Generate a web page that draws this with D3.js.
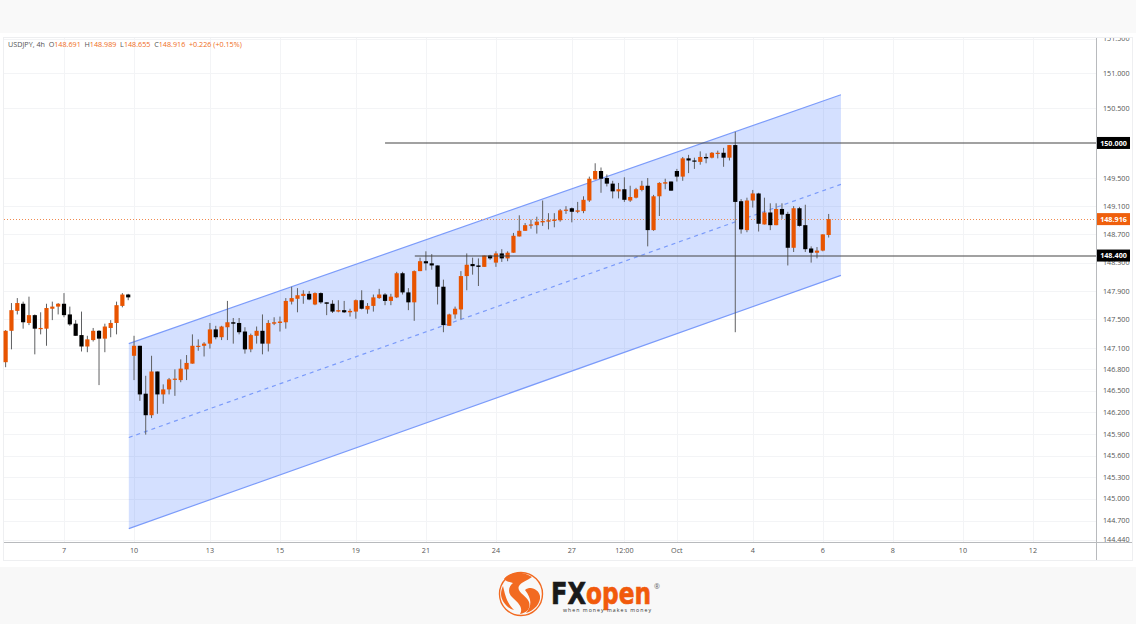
<!DOCTYPE html>
<html>
<head>
<meta charset="utf-8">
<script src="https://cdn.jsdelivr.net/npm/d3@7"></script>
<style>
html,body{margin:0;padding:0;background:#fff;}
svg{display:block;}
text{font-family:"Open Sans",sans-serif;}
</style>
</head>
<body>
<svg width="1136" height="624"></svg>
<script>
// USDJPY 4h candles
var opens = [
146.90,147.34,147.62,147.72,147.45,147.56,147.37,147.37,147.65,147.68,
147.72,147.57,147.44,147.28,147.12,147.21,147.34,147.23,147.38,147.45,
147.69,147.85,146.99,147.13,146.46,146.16,146.77,146.45,146.52,146.66,
146.65,146.80,146.88,147.12,147.13,147.16,147.36,147.25,147.39,147.46,
147.45,147.33,147.08,147.27,147.34,147.16,147.44,147.45,147.46,147.75,
147.79,147.83,147.86,147.71,147.87,147.74,147.72,147.61,147.63,147.60,
147.61,147.77,147.64,147.69,147.80,147.85,147.76,147.81,148.15,147.88,
147.74,148.18,148.32,148.29,148.26,147.96,147.41,147.57,147.64,148.11,
148.28,148.26,148.24,148.40,148.30,148.43,148.36,148.44,148.67,148.75,
148.83,148.83,148.87,148.88,148.89,148.90,149.04,149.07,149.02,149.03,
149.18,149.48,149.60,149.50,149.42,149.31,149.34,149.18,149.22,149.33,
149.39,148.76,149.24,149.42,149.45,149.60,149.52,149.78,149.75,149.73,
149.80,149.79,149.85,149.86,149.79,149.97,149.17,148.76,149.18,149.28,
148.84,149.01,148.83,149.06,148.99,148.51,149.07,148.83,148.50,148.44,
148.47,148.691];
var highs = [
147.35,147.73,147.80,147.75,147.82,147.57,147.60,147.72,147.75,147.73,
147.87,147.68,147.49,147.61,147.27,147.38,147.35,147.44,147.49,147.75,
147.87,147.86,147.27,147.13,146.71,146.99,146.77,146.59,146.68,146.80,
146.94,147.00,147.29,147.22,147.18,147.45,147.41,147.41,147.76,147.52,
147.52,147.39,147.30,147.40,147.57,147.49,147.53,147.54,147.80,147.96,
147.94,147.91,147.90,147.88,147.88,147.74,147.77,147.77,147.76,147.65,
147.78,147.91,147.73,147.85,147.93,147.87,147.86,148.17,148.17,147.94,
148.19,148.37,148.46,148.42,148.26,148.06,147.58,147.68,148.18,148.43,
148.37,148.36,148.40,148.41,148.46,148.49,148.46,148.72,148.97,148.86,
148.91,148.95,149.18,149.00,149.00,149.06,149.10,149.08,149.16,149.24,
149.52,149.71,149.65,149.55,149.46,149.43,149.51,149.39,149.36,149.46,
149.50,149.26,149.44,149.49,149.45,149.63,149.80,149.83,149.79,149.88,
149.85,149.87,149.89,149.93,149.97,150.16,149.20,149.22,149.33,149.29,
149.22,149.14,149.14,149.14,149.02,149.10,149.09,149.12,148.53,148.52,
148.70,148.989];
var lows = [
146.83,147.08,147.57,147.37,147.42,147.01,147.29,147.13,147.49,147.57,
147.53,147.41,147.27,147.05,147.04,147.19,146.58,147.04,147.25,147.29,
147.67,147.77,146.65,146.36,145.89,146.12,146.18,146.32,146.45,146.43,
146.62,146.65,146.88,147.06,146.98,147.09,147.22,147.21,147.21,147.16,
147.29,147.02,147.04,147.16,147.01,147.05,147.42,147.33,147.37,147.71,
147.60,147.72,147.77,147.70,147.72,147.56,147.59,147.60,147.59,147.54,
147.51,147.64,147.58,147.61,147.79,147.70,147.70,147.80,147.85,147.63,
147.48,148.18,148.19,148.20,147.71,147.32,147.41,147.51,147.50,147.91,
148.13,147.97,148.24,148.34,148.24,148.31,148.32,148.44,148.67,148.75,
148.78,148.71,148.82,148.77,148.80,148.88,148.99,148.87,149.00,149.00,
149.16,149.48,149.29,149.38,149.21,149.21,149.16,149.16,149.21,149.31,
148.53,148.75,148.96,149.34,149.32,149.45,149.46,149.57,149.63,149.69,
149.71,149.78,149.78,149.66,149.75,147.32,148.71,148.73,149.08,148.74,
148.84,148.76,148.83,148.92,148.26,148.45,148.81,148.45,148.30,148.36,
148.46,148.655];
var closes = [
147.34,147.63,147.73,147.46,147.56,147.37,147.38,147.66,147.68,147.72,
147.56,147.43,147.27,147.12,147.22,147.34,147.23,147.40,147.45,147.70,
147.85,147.81,147.13,146.45,146.16,146.77,146.45,146.52,146.66,146.67,
146.81,146.89,147.13,147.13,147.16,147.36,147.25,147.40,147.46,147.44,
147.32,147.08,147.28,147.34,147.16,147.45,147.46,147.47,147.76,147.80,
147.84,147.86,147.78,147.87,147.74,147.72,147.61,147.63,147.60,147.62,
147.77,147.65,147.69,147.81,147.85,147.76,147.82,148.15,147.88,147.74,
148.18,148.32,148.29,148.26,147.96,147.42,147.57,147.65,148.11,148.27,
148.25,148.24,148.40,148.36,148.43,148.36,148.44,148.68,148.75,148.83,
148.84,148.88,148.89,148.90,148.91,149.04,149.05,149.02,149.04,149.19,
149.49,149.60,149.49,149.42,149.31,149.34,149.19,149.23,149.34,149.39,
148.76,149.24,149.43,149.44,149.32,149.52,149.78,149.75,149.74,149.80,
149.78,149.86,149.86,149.79,149.97,149.16,148.77,149.18,149.28,148.85,
149.01,148.83,149.06,148.98,148.51,149.07,148.82,148.49,148.44,148.47,
148.70,148.916];

var priceTicks = [151.5,151,150.5,149.5,149.1,148.7,148.3,147.9,147.5,147.1,146.8,146.5,146.2,145.9,145.6,145.3,145,144.7,144.44];
var dateTicks = ["7","10","13","15","19","21","24","27","12:00","Oct","4","6","8","10","12"];
var dateTickIdx = [10,22,35,47,60,72,84,97,106,115,128,140,152,164,176];

// channel ends: candle index, price
var channelIdx = [21.1,143.1];
var channelTop = [147.16,150.69];
var channelMid = [145.85,149.41];
var channelBot = [144.59,148.12];

var levels = [150,148.4];
var levelStart = [65,70.1];
var lastPrice = 148.916;

var headerParts = [["USDJPY, 4h  O","#555"],["148.691","#ef6c1a"],["  H","#555"],["148.989","#ef6c1a"],["  L","#555"],["148.655","#ef6c1a"],["  C","#555"],["148.916","#ef6c1a"],["  +0.226 (+0.15%)","#ef6c1a"]];

var upColor = "#e85400";
var downColor = "#000";
var labelSize = 7.2;

var svg = d3.select("svg");
var x = d3.scaleLinear().domain([-0.45,186.8]).range([3,1096]);
var y = d3.scaleLog().domain([144.44,151.5]).range([539.5,38.5]);

//page frame
svg.append("rect").attr("width",1136).attr("height",33).attr("fill","#f9f9f9");
svg.append("rect").attr("y",567).attr("width",1136).attr("height",57).attr("fill","#f8f8f8");
svg.append("rect").attr("x",3.5).attr("y",37.5).attr("width",1129).attr("height",523)
    .attr("fill","#fff").attr("stroke","#eeeff1");
svg.append("clipPath").attr("id","axisClip").append("rect")
    .attr("x",1097).attr("y",38).attr("width",36).attr("height",504);

//grid
svg.append("g").selectAll("line").data(priceTicks).enter().append("line")
    .attr("x1",4).attr("x2",1096)
    .attr("y1",d=>Math.round(y(d))+0.5).attr("y2",d=>Math.round(y(d))+0.5)
    .attr("stroke","#f3f4f6");
svg.append("g").selectAll("line").data(dateTickIdx).enter().append("line")
    .attr("x1",d=>Math.round(x(d))+0.5).attr("x2",d=>Math.round(x(d))+0.5)
    .attr("y1",38).attr("y2",542)
    .attr("stroke","#f3f4f6");

//channel
var chanArea = d3.area().x((d,i)=>x(channelIdx[i])).y0((d,i)=>y(channelBot[i])).y1(d=>y(d));
svg.append("path").attr("d",chanArea(channelTop)).attr("fill","#2962ff").attr("fill-opacity",0.2);
var chanLine = d3.line().x((d,i)=>x(channelIdx[i])).y(d=>y(d));
svg.append("path").attr("d",chanLine(channelTop)).attr("fill","none").attr("stroke","#7b9bfa").attr("stroke-width",1.2);
svg.append("path").attr("d",chanLine(channelBot)).attr("fill","none").attr("stroke","#7b9bfa").attr("stroke-width",1.2);
svg.append("path").attr("d",chanLine(channelMid)).attr("fill","none").attr("stroke","#7b9bfa").attr("stroke-width",1.2).attr("stroke-dasharray","4 4");

//last price line
svg.append("line").attr("x1",4).attr("x2",1096)
    .attr("y1",Math.round(y(lastPrice))+0.5).attr("y2",Math.round(y(lastPrice))+0.5)
    .attr("stroke","#ef8a50").attr("stroke-dasharray","1 2");

//candles
var candles = svg.append("g").selectAll("g").data(d3.range(opens.length)).enter().append("g");
candles.append("line")
    .attr("x1",i=>x(i)).attr("x2",i=>x(i))
    .attr("y1",i=>y(highs[i])).attr("y2",i=>y(lows[i]))
    .attr("stroke","#5f6062").attr("stroke-width",1);
candles.append("rect")
    .attr("x",i=>x(i)-2.1).attr("width",4.2)
    .attr("y",i=>y(Math.max(opens[i],closes[i])))
    .attr("height",i=>Math.max(1.2,Math.abs(y(opens[i])-y(closes[i]))))
    .attr("fill",i=>closes[i]>=opens[i]?upColor:downColor);

//horizontal levels
svg.append("g").selectAll("line").data(levels).enter().append("line")
    .attr("x1",(d,i)=>x(levelStart[i])).attr("x2",1096)
    .attr("y1",d=>Math.round(y(d))).attr("y2",d=>Math.round(y(d)))
    .attr("stroke","#444").attr("stroke-width",1.2);

//axes
svg.append("line").attr("x1",1096.5).attr("x2",1096.5).attr("y1",38).attr("y2",560).attr("stroke","#b8babd");
svg.append("line").attr("x1",4).attr("x2",1132).attr("y1",542.5).attr("y2",542.5).attr("stroke","#b8babd");

svg.append("g").attr("clip-path","url(#axisClip)").selectAll("text").data(priceTicks).enter().append("text")
    .attr("x",1103).attr("y",d=>y(d)+2.6)
    .attr("font-size",labelSize).attr("fill","#555")
    .text(d=>d3.format(".3f")(d));

svg.append("g").selectAll("text").data(dateTicks).enter().append("text")
    .attr("x",(d,i)=>x(dateTickIdx[i])).attr("y",553)
    .attr("text-anchor","middle").attr("font-size",labelSize).attr("fill","#555")
    .text(d=>d);

//price tags
var tags = svg.append("g").selectAll("g").data(levels.concat([lastPrice])).enter().append("g");
tags.append("rect")
    .attr("x",1097).attr("width",33).attr("height",12)
    .attr("y",d=>y(d)-6)
    .attr("fill",d=>d==lastPrice?"#ef5f0c":"#000");
tags.append("text")
    .attr("x",1113.5).attr("y",d=>y(d)+2.6)
    .attr("text-anchor","middle").attr("font-size",labelSize).attr("font-weight",700).attr("fill","#fff")
    .text(d=>d3.format(".3f")(d));

//header
svg.append("text").attr("x",8).attr("y",47).attr("font-size",labelSize).attr("xml:space","preserve")
    .selectAll("tspan").data(headerParts).enter().append("tspan")
    .attr("fill",d=>d[1]).text(d=>d[0]);

//logo
var logo = svg.append("g");
logo.append("circle").attr("cx",521).attr("cy",594).attr("r",21.5).attr("fill","none").attr("stroke","#f26a21").attr("stroke-width",1.4);
logo.append("path").attr("fill","#f26a21")
    .attr("d","M504 579 C509 572 522 570 532 577 C527 581 521 582 519 586 C516 592 527 596 529 602 C531 608 527 613 520 614 C524 607 517 602 512 597 C507 592 509 586 513 583 C510 582 507 582 504 579 Z");
logo.append("path").attr("fill","#f26a21")
    .attr("d","M525 590 C531 585 539 590 540 596 C541 603 534 611 526 613 C532 606 532 599 525 590 Z");
logo.append("path").attr("fill","#f26a21")
    .attr("d","M503 586 C505 594 506 602 514 610 C508 609 501 601 501 594 C501 591 502 588 503 586 Z");
logo.append("text").attr("x",551).attr("y",604).attr("font-size",31).attr("font-weight",700)
    .attr("style","font-family:'DejaVu Sans'").attr("textLength",35).attr("lengthAdjust","spacingAndGlyphs")
    .attr("fill","#1a1a1a").attr("stroke","#1a1a1a").attr("stroke-width",0.7).text("FX");
logo.append("text").attr("x",586).attr("y",604).attr("font-size",31).attr("font-weight",700)
    .attr("style","font-family:'DejaVu Sans'").attr("textLength",65).attr("lengthAdjust","spacingAndGlyphs")
    .attr("fill","#f15a0b").attr("stroke","#f15a0b").attr("stroke-width",0.7).text("open");
logo.append("text").attr("x",563).attr("y",612).attr("font-size",5.2).attr("textLength",88).attr("fill","#333").text("when money makes money");
logo.append("text").attr("x",654).attr("y",589).attr("font-size",7).attr("fill","#666").text("®");
</script>
</body>
</html>
